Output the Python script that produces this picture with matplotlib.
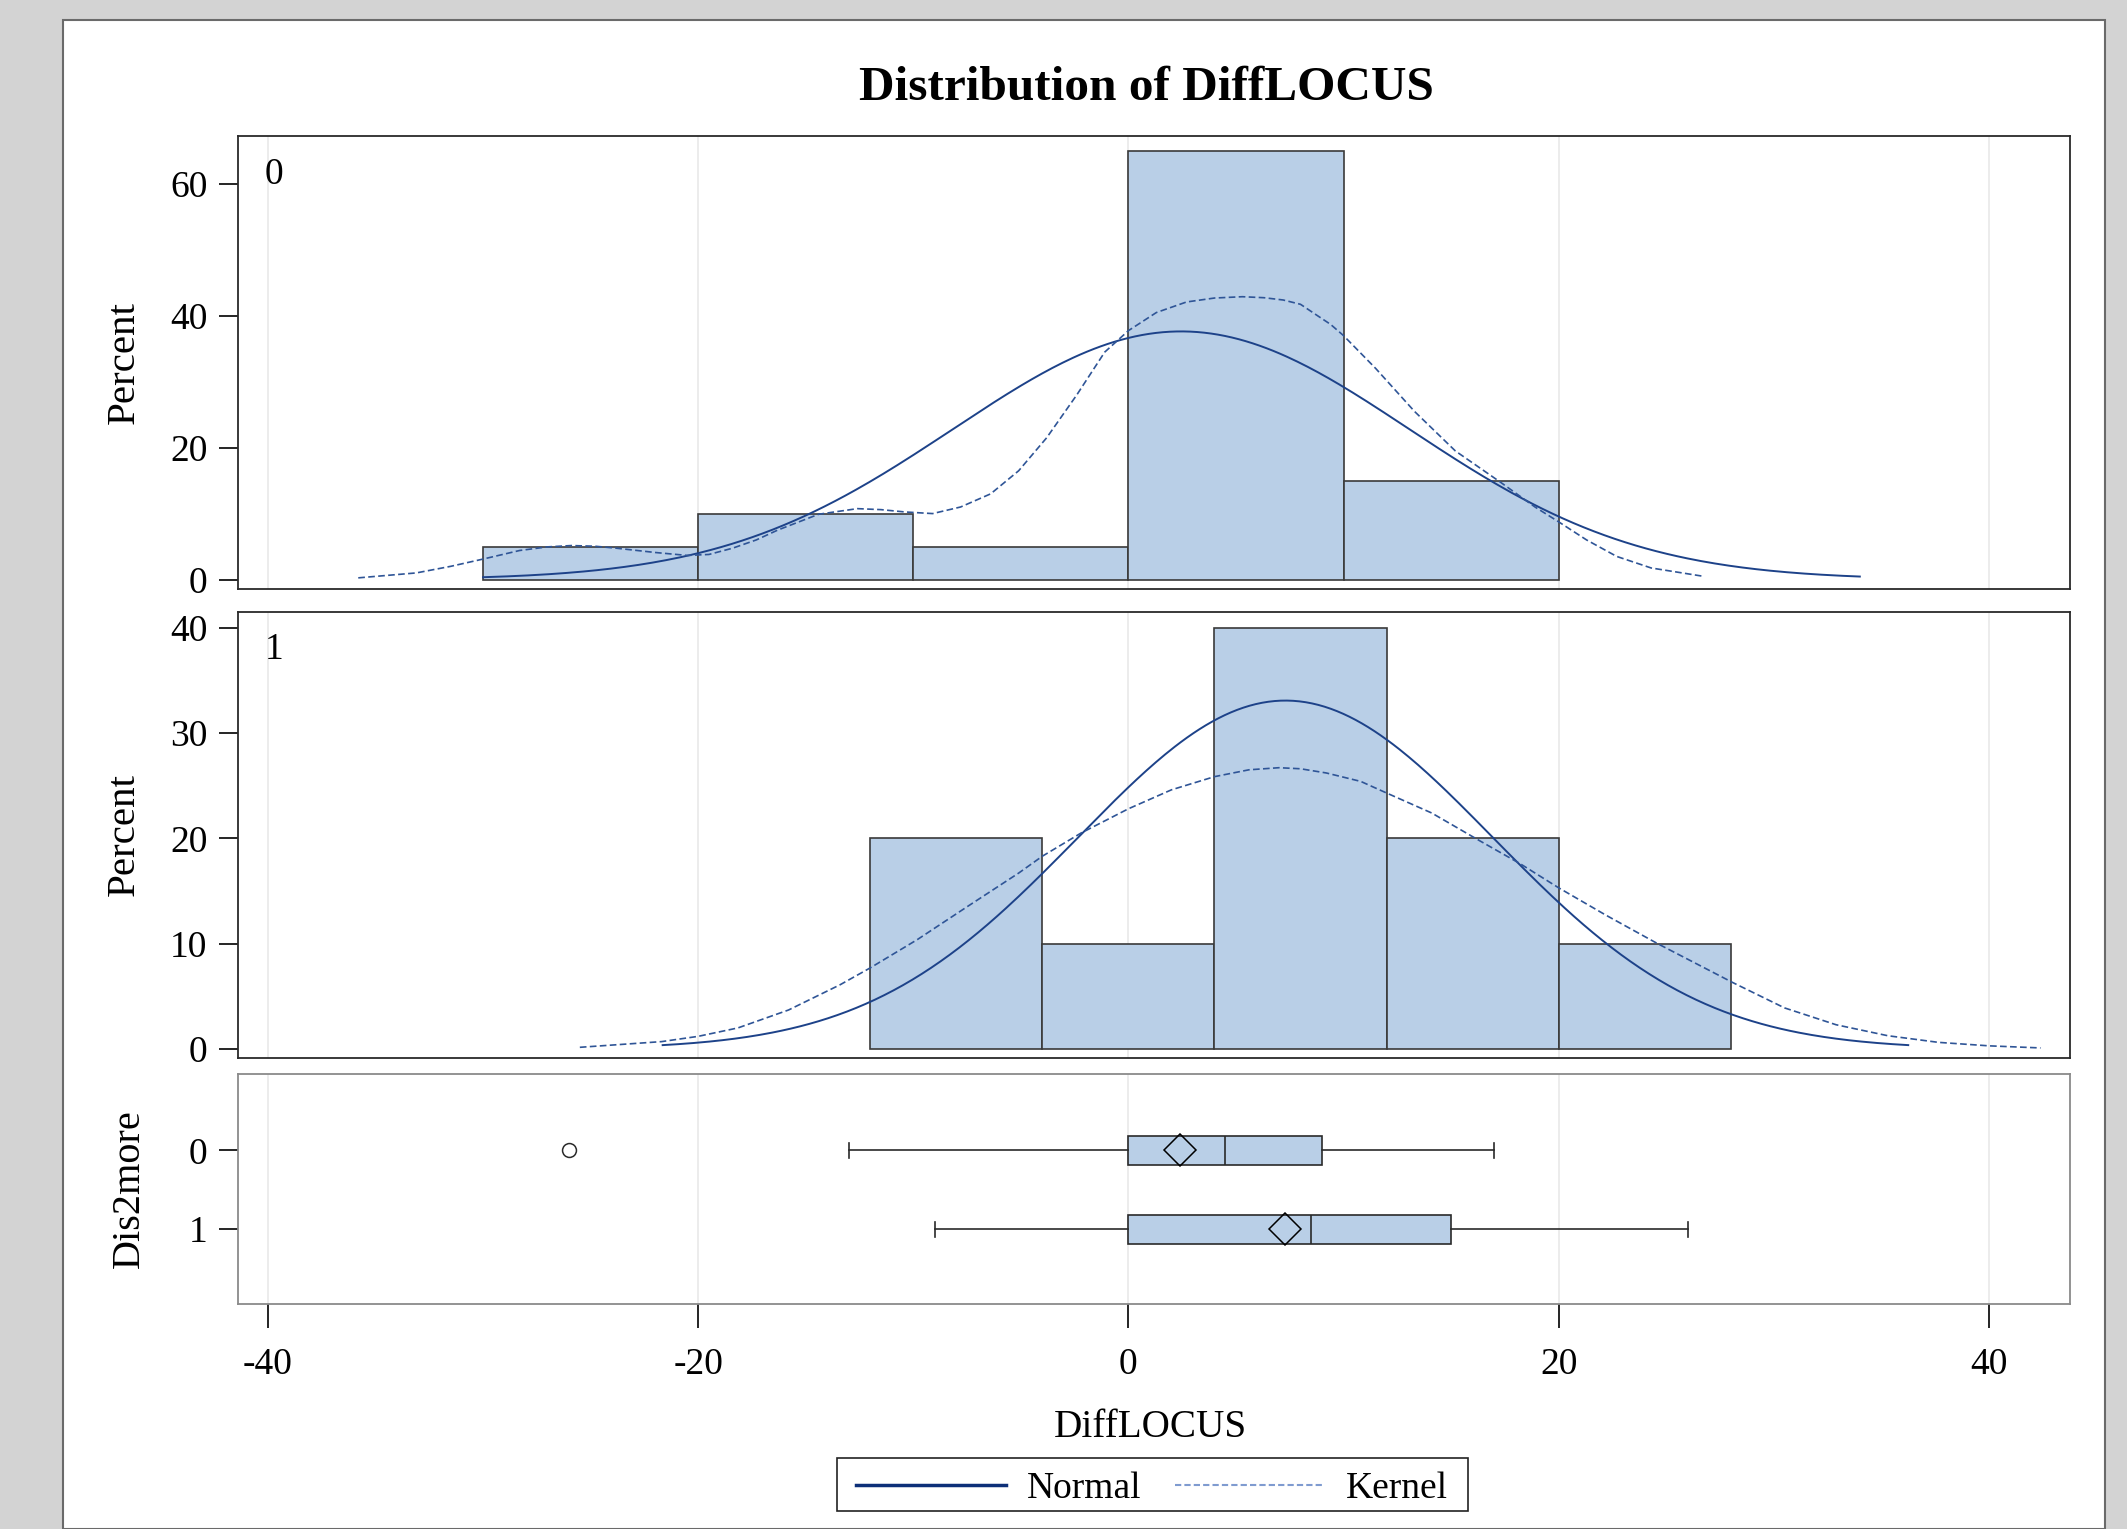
import numpy as np
import matplotlib
matplotlib.use("Agg")
import matplotlib.pyplot as plt
from matplotlib.lines import Line2D
from matplotlib.patches import Rectangle

plt.rcParams['font.family'] = ['Liberation Serif', 'DejaVu Serif']

# ---------------- data ----------------
groups = ["0", "1"]

# histogram group 0 (bin width 10)
bins0_left = [-30, -20, -10, 0, 10]
bins0_width = 10
pct0 = [5, 10, 5, 65, 15]

# histogram group 1 (bin width 8)
bins1_left = [-12, -4, 4, 12, 20]
bins1_width = 8
pct1 = [20, 10, 40, 20, 10]

# normal fit parameters (mean, std, drawn range)
norm0_mean, norm0_sd, norm0_range = 2.45, 10.6, (-30.0, 34.0)
norm1_mean, norm1_sd, norm1_range = 7.3, 9.65, (-21.65, 36.25)

# kernel density curves (x, percent)
kern0_x = [-35.8, -33.1, -31.5, -30.0, -28.3, -27.0, -25.9, -24.8, -23.8, -22.0, -20.5,
           -19.5, -18.4, -17.3, -16.3, -14.4, -12.6, -11.5, -10.4, -9.1, -7.8, -6.4,
           -5.1, -3.8, -2.4, -1.1, 0.0, 1.3, 2.7, 4.0, 5.3, 6.3, 7.2, 8.0, 8.8, 9.4, 10.0,
           11.5, 13.3, 15.2, 17.3, 18.9, 20.0, 21.3, 22.7, 24.3, 26.7]
kern0_y = [0.25, 1.0, 2.0, 3.1, 4.4, 4.95, 5.15, 5.05, 4.75, 4.1, 3.65,
           3.8, 4.75, 6.0, 7.5, 9.9, 10.75, 10.6, 10.25, 10.0, 11.0, 13.0,
           16.5, 21.5, 28.0, 34.5, 37.75, 40.5, 42.1, 42.7, 42.9, 42.75, 42.4, 41.75, 40.0,
           38.7, 37.0, 32.0, 25.5, 19.5, 14.75, 11.0, 8.75, 6.0, 3.5, 1.75, 0.5]

kern1_x = [-25.5, -21.7, -20.0, -18.15, -15.8, -13.4, -12.0, -9.8, -7.5, -5.1, -4.0,
           -2.2, 0.0, 2.0, 4.0, 5.6, 7.0, 8.0, 9.2, 10.8, 12.0, 14.1, 16.3, 18.2,
           20.0, 22.2, 24.6, 28.1, 30.5, 32.9, 35.3, 37.65, 40.0, 42.4]
kern1_y = [0.16, 0.7, 1.2, 2.0, 3.7, 6.1, 7.7, 10.4, 13.5, 16.7, 18.3,
           20.5, 22.8, 24.6, 25.85, 26.5, 26.7, 26.6, 26.2, 25.4, 24.3, 22.4, 19.8, 17.6,
           15.3, 12.7, 10.0, 6.3, 3.9, 2.3, 1.26, 0.63, 0.3, 0.1]

# box plot statistics
box_q1 = [0, 0]
box_med = [4.5, 8.5]
box_q3 = [9, 15]
box_whislo = [-13, -9]
box_whishi = [17, 26]
box_mean = [2.42, 7.3]
box_fliers = [[-26], []]

xticks = [-40, -20, 0, 20, 40]
yticks_top = [0, 20, 40, 60]
yticks_mid = [0, 10, 20, 30, 40]

# ---------------- style ----------------
BAR = '#b9cfe7'
BAREDGE = '#3a3a3a'
NORMC = '#1d4289'
KERNC = '#2f5597'
GRID = '#e9e9e9'
FS = 27
LFS = 29.5

W, H = 2127, 1529
fig = plt.figure(figsize=(W / 100, H / 100), dpi=100)
fig.patch.set_facecolor('#d3d3d3')
fig.patches.append(Rectangle((63 / W, 0), (2105 - 63) / W, 1 - 20 / H,
                             transform=fig.transFigure, facecolor='white',
                             edgecolor='#6a6a6a', linewidth=1.5, zorder=-10))

def ax_rect(x0, x1, y0, y1):
    return [x0 / W, 1 - y1 / H, (x1 - x0) / W, (y1 - y0) / H]

XL, XR = 238, 2070
ax0 = fig.add_axes(ax_rect(XL, XR, 136, 589))
ax1 = fig.add_axes(ax_rect(XL, XR, 612, 1058))
axb = fig.add_axes(ax_rect(XL, XR, 1074, 1304))
for a in (ax0, ax1, axb):
    a.set_zorder(1)

xlim = (-41.39, 43.77)

def normal_curve(mean, sd, rng, bw):
    x = np.linspace(rng[0], rng[1], 400)
    y = 100 * bw * np.exp(-0.5 * ((x - mean) / sd) ** 2) / (sd * np.sqrt(2 * np.pi))
    return x, y

def style_hist_axis(ax, yticks, ylim, label):
    ax.set_xlim(*xlim)
    ax.set_ylim(*ylim)
    ax.set_yticks(yticks)
    ax.set_xticks(xticks)
    ax.tick_params(axis='x', bottom=False, labelbottom=False)
    ax.tick_params(axis='y', direction='out', length=14, width=1.2, pad=8,
                   labelsize=FS, colors='black')
    for x in xticks:
        ax.axvline(x, color=GRID, lw=1.2, zorder=0)
    for s in ax.spines.values():
        s.set_color('#2a2a2a')
        s.set_linewidth(1.3)
    ax.set_ylabel('Percent', fontsize=LFS)
    ax.yaxis.set_label_coords(-0.052, 0.5)
    ax.text(0.0197, 0.915, label, transform=ax.transAxes, fontsize=FS,
            ha='center', va='center')

# top panel
ax0.bar(bins0_left, pct0, width=bins0_width, align='edge', color=BAR,
        edgecolor=BAREDGE, linewidth=1.2, zorder=2)
nx, ny = normal_curve(norm0_mean, norm0_sd, norm0_range, bins0_width)
ax0.plot(nx, ny, color=NORMC, lw=1.4, zorder=3)
ax0.plot(kern0_x, kern0_y, color=KERNC, lw=1.2, ls=(0, (4, 2)), zorder=3)
style_hist_axis(ax0, yticks_top, (-1.44, 67.28), groups[0])

# middle panel
ax1.bar(bins1_left, pct1, width=bins1_width, align='edge', color=BAR,
        edgecolor=BAREDGE, linewidth=1.2, zorder=2)
nx, ny = normal_curve(norm1_mean, norm1_sd, norm1_range, bins1_width)
ax1.plot(nx, ny, color=NORMC, lw=1.4, zorder=3)
ax1.plot(kern1_x, kern1_y, color=KERNC, lw=1.2, ls=(0, (4, 2)), zorder=3)
style_hist_axis(ax1, yticks_mid, (-0.855, 41.48), groups[1])

# box panel
stats = []
for i in range(2):
    stats.append(dict(q1=box_q1[i], med=box_med[i], q3=box_q3[i],
                      whislo=box_whislo[i], whishi=box_whishi[i],
                      mean=box_mean[i], fliers=box_fliers[i], label=groups[i]))
for x in xticks:
    axb.axvline(x, color=GRID, lw=1.2, zorder=0)
axb.bxp(stats, positions=[0, 1], widths=0.364, capwidths=0.19,
        orientation='horizontal', patch_artist=True, showmeans=True,
        boxprops=dict(facecolor=BAR, edgecolor='#2a2a2a', linewidth=1.2),
        medianprops=dict(color='#2a2a2a', linewidth=1.2),
        whiskerprops=dict(color='#2a2a2a', linewidth=1.2),
        capprops=dict(color='#2a2a2a', linewidth=1.2),
        meanprops=dict(marker='D', markersize=16, markerfacecolor='none',
                       markeredgecolor='black', markeredgewidth=1.1),
        flierprops=dict(marker='o', markersize=10, markerfacecolor='none',
                        markeredgecolor='#2a2a2a', markeredgewidth=1.1))
axb.set_xlim(*xlim)
axb.set_ylim(1.95, -0.97)
axb.set_yticks([0, 1])
axb.set_yticklabels(groups)
axb.set_xticks(xticks)
axb.set_xticklabels([str(t) for t in xticks])
axb.tick_params(axis='y', direction='out', length=14, width=1.2, pad=8, labelsize=FS)
axb.tick_params(axis='x', direction='out', length=17, width=1.2, pad=14, labelsize=FS)
for s in axb.spines.values():
    s.set_color('#8a8a8a')
    s.set_linewidth(1.3)
axb.set_ylabel('Dis2more', fontsize=29)
axb.yaxis.set_label_coords(-0.049, 0.5)
axb.set_xlabel('DiffLOCUS', fontsize=28.2)
axb.xaxis.set_label_coords(0.498, -0.458)

# title
fig.text(0.539, 1 - 88 / H, 'Distribution of DiffLOCUS', fontsize=35.5,
         fontweight='bold', ha='center', va='center')

# legend (frame drawn separately to match its exact extent)
fig.patches.append(Rectangle((837 / W, 1 - 1511 / H), (1468 - 837) / W, (1511 - 1458) / H,
                             transform=fig.transFigure, facecolor='white',
                             edgecolor='#222222', linewidth=1.2, zorder=2))
handles = [Line2D([], [], color='#0d2f78', lw=2.5),
           Line2D([], [], color='#7f9bd0', lw=1.5, ls=(0, (3, 1.5)))]
leg = fig.legend(handles, ['Normal', 'Kernel'], loc='center',
                 bbox_to_anchor=(1152 / W, 1 - 1489 / H), ncol=2, fontsize=FS,
                 handlelength=4.0, handletextpad=0.55, columnspacing=0.9,
                 frameon=False, borderpad=0.25, borderaxespad=0)
leg.set_zorder(3)

fig.savefig('out.png', dpi=100, facecolor=fig.get_facecolor())
